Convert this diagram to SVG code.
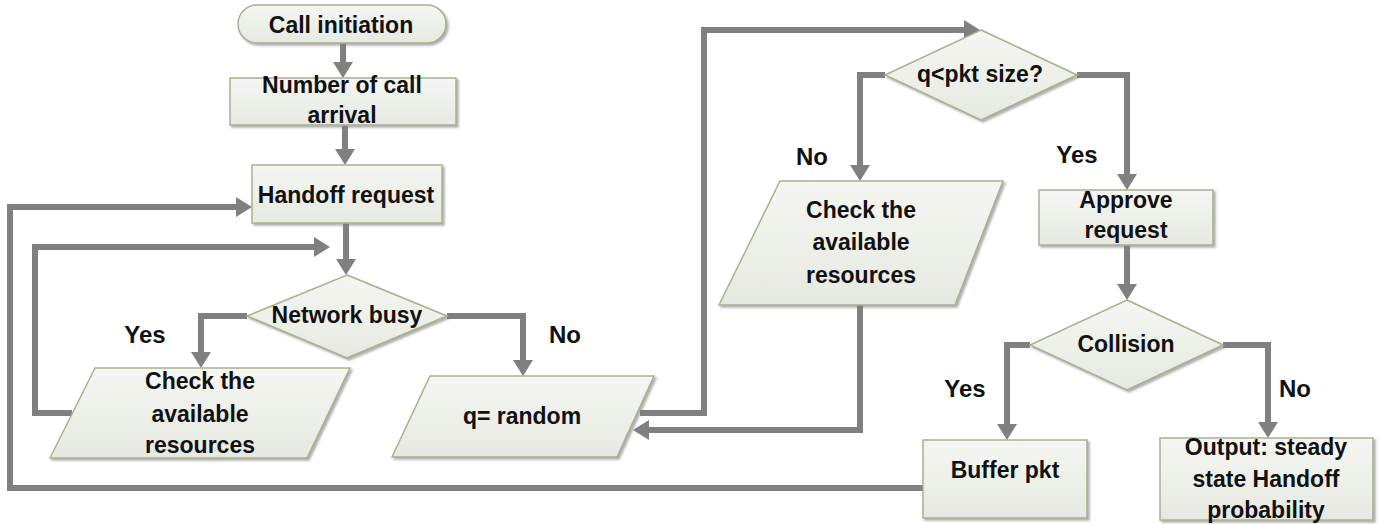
<svg xmlns="http://www.w3.org/2000/svg" width="1380" height="524" viewBox="0 0 1380 524">
<style>
.n{fill:url(#g);stroke:#a9b08f;stroke-width:1.5;filter:url(#sh)}
.t{font-family:"Liberation Sans",Arial,sans-serif;font-weight:bold;font-size:23px;fill:#111;text-anchor:middle}
.l{font-family:"Liberation Sans",Arial,sans-serif;font-weight:bold;font-size:24px;fill:#111;text-anchor:middle}
.c{fill:none;stroke:#808080;stroke-width:6;stroke-linejoin:miter;marker-end:url(#ah)}
</style>
<defs>
<linearGradient id="g" x1="0" y1="0" x2="0" y2="1">
<stop offset="0" stop-color="#f5f6f2"/>
<stop offset="1" stop-color="#e6e9e1"/>
</linearGradient>
<filter id="sh" x="-10%" y="-10%" width="125%" height="130%">
<feDropShadow dx="2" dy="2" stdDeviation="1" flood-color="#7a7a7a" flood-opacity="0.6"/>
</filter>
<marker id="ah" markerUnits="userSpaceOnUse" markerWidth="20" markerHeight="22" refX="6" refY="10" orient="auto">
<path d="M0,0 L16,10 L0,20 z" fill="#808080"/>
</marker>
</defs>
<g id="connectors">
<path class="c" d="M343,43 V68"/>
<path class="c" d="M345,125 V155"/>
<path class="c" d="M346,223 V265"/>
<path class="c" d="M72,413 H35 V247 H320"/>
<path class="c" d="M923,488 H10 V207 H242"/>
<path class="c" d="M247,316 H201 V358"/>
<path class="c" d="M447,316 H523 V366"/>
<path class="c" d="M640,413 H704 V30 H970"/>
<path class="c" d="M885,75 H860 V171"/>
<path class="c" d="M860,305 V430 H643"/>
<path class="c" d="M1077,75 H1127 V180"/>
<path class="c" d="M1127,245 V290"/>
<path class="c" d="M1030,345 H1007 V430"/>
<path class="c" d="M1223,345 H1268 V428"/>
</g>
<g id="call-initiation">
<rect class="n" x="238" y="5" width="208" height="38" rx="19"/>
<text class="t" x="341" y="33">Call initiation</text>
</g>
<g id="number-of-call-arrival">
<rect class="n" x="230" y="78" width="226" height="47"/>
<text class="t" x="342" y="93">Number of call</text>
<text class="t" x="342" y="123">arrival</text>
</g>
<g id="handoff-request">
<rect class="n" x="252" y="165" width="190" height="58"/>
<text class="t" x="346" y="203">Handoff request</text>
</g>
<g id="network-busy">
<polygon class="n" points="347,275 447,316 347,358 247,316"/>
<text class="t" x="347" y="323">Network busy</text>
</g>
<g id="check-resources-1">
<polygon class="n" points="95,368 350,368 307,458 50,458"/>
<text class="t" x="200" y="389">Check the</text>
<text class="t" x="200" y="422">available</text>
<text class="t" x="200" y="453">resources</text>
</g>
<g id="q-random">
<polygon class="n" points="430,376 654,376 617,457 392,457"/>
<text class="t" x="522" y="424">q= random</text>
</g>
<g id="q-pkt-size">
<polygon class="n" points="981,30 1077,75 981,120 885,75"/>
<text class="t" x="980" y="82">q&lt;pkt size?</text>
</g>
<g id="check-resources-2">
<polygon class="n" points="780,181 1003,181 955,305 719,305"/>
<text class="t" x="861" y="218">Check the</text>
<text class="t" x="861" y="250">available</text>
<text class="t" x="861" y="283">resources</text>
</g>
<g id="approve-request">
<rect class="n" x="1039" y="190" width="174" height="55"/>
<text class="t" x="1126" y="208">Approve</text>
<text class="t" x="1126" y="238">request</text>
</g>
<g id="collision">
<polygon class="n" points="1127,300 1223,345 1127,390 1030,345"/>
<text class="t" x="1126" y="352">Collision</text>
</g>
<g id="buffer-pkt">
<rect class="n" x="923" y="440" width="164" height="78"/>
<text class="t" x="1005" y="478">Buffer pkt</text>
</g>
<g id="output">
<rect class="n" x="1160" y="438" width="213" height="82"/>
<text class="t" x="1266" y="455">Output: steady</text>
<text class="t" x="1266" y="487">state Handoff</text>
<text class="t" x="1266" y="518">probability</text>
</g>
<g id="labels">
<text class="l" x="145" y="343">Yes</text>
<text class="l" x="565" y="343">No</text>
<text class="l" x="812" y="165">No</text>
<text class="l" x="1077" y="163">Yes</text>
<text class="l" x="965" y="397">Yes</text>
<text class="l" x="1295" y="397">No</text>
</g>
</svg>
